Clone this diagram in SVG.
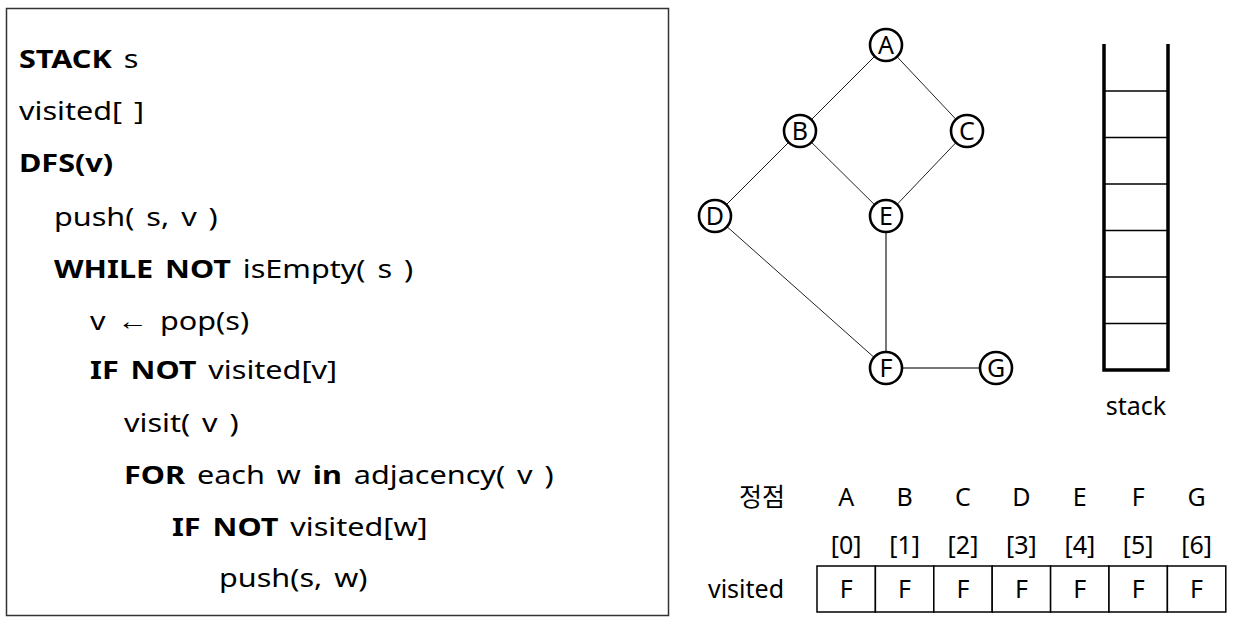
<svg xmlns="http://www.w3.org/2000/svg" width="1237" height="623" viewBox="0 0 1237 623">
<style>
.code{font-family:"Noto Sans","Open Sans",sans-serif;font-size:25.5px;fill:#000;word-spacing:3.3px}
.b{font-weight:bold}
.lbl{font-family:"Noto Sans","Open Sans","Noto Sans CJK KR",sans-serif;font-size:25px;fill:#000}
.mid{text-anchor:middle}
.node circle{fill:#fff;stroke:#000;stroke-width:2.6}
.node text{font-family:"Noto Sans","Open Sans",sans-serif;font-size:25px;text-anchor:middle;fill:#000}
.edge{stroke:#222;stroke-width:1}
.edge2{stroke:#777;stroke-width:2}
.cell{fill:#fff;stroke:#000;stroke-width:1.5}
</style>
<rect width="1237" height="623" fill="#fff"/>
<g id="code">
<rect x="6.5" y="8.5" width="662" height="607" fill="#fff" stroke="#333" stroke-width="1.5"/>
<g transform="scale(1.2,1)" class="code">
<text x="15.8" y="68"><tspan class="b">STACK</tspan> s</text>
<text x="15.8" y="120">visited[ ]</text>
<text x="15.8" y="172" class="b">DFS(v)</text>
<text x="45" y="226">push( s, v )</text>
<text x="45" y="278"><tspan class="b">WHILE NOT</tspan> isEmpty( s )</text>
<text x="75" y="330">v ← pop(s)</text>
<text x="75" y="379"><tspan class="b">IF NOT</tspan> visited[v]</text>
<text x="103.3" y="432">visit( v )</text>
<text x="103.3" y="484"><tspan class="b">FOR</tspan> each w <tspan class="b">in</tspan> adjacency( v )</text>
<text x="143.3" y="536"><tspan class="b">IF NOT</tspan> visited[w]</text>
<text x="182.5" y="587">push(s, w)</text>
</g>
</g>
<g id="edges">
<line class="edge" x1="886" y1="45" x2="800" y2="131"/>
<line class="edge" x1="886" y1="45" x2="967" y2="131"/>
<line class="edge" x1="800" y1="131" x2="715" y2="216"/>
<line class="edge" x1="800" y1="131" x2="886" y2="216"/>
<line class="edge" x1="967" y1="131" x2="886" y2="216"/>
<line class="edge" x1="715" y1="216" x2="886" y2="368"/>
<line class="edge2" x1="886" y1="216" x2="886" y2="368"/>
<line class="edge2" x1="886" y1="368" x2="996" y2="368"/>
</g>
<g id="node-A" class="node"><circle cx="886" cy="45" r="16"/><text x="886" y="54">A</text></g>
<g id="node-B" class="node"><circle cx="800" cy="131" r="16"/><text x="800" y="140">B</text></g>
<g id="node-C" class="node"><circle cx="967" cy="131" r="16"/><text x="967" y="140">C</text></g>
<g id="node-D" class="node"><circle cx="715" cy="216" r="16"/><text x="715" y="225">D</text></g>
<g id="node-E" class="node"><circle cx="886" cy="216" r="16"/><text x="886" y="225">E</text></g>
<g id="node-F" class="node"><circle cx="886" cy="368" r="16"/><text x="886" y="377">F</text></g>
<g id="node-G" class="node"><circle cx="996" cy="368" r="16"/><text x="996" y="377">G</text></g>
<g id="stack">
<g stroke="#000" stroke-width="1.5">
<line x1="1104" y1="91" x2="1168" y2="91"/>
<line x1="1104" y1="137.5" x2="1168" y2="137.5"/>
<line x1="1104" y1="184" x2="1168" y2="184"/>
<line x1="1104" y1="230.5" x2="1168" y2="230.5"/>
<line x1="1104" y1="277" x2="1168" y2="277"/>
<line x1="1104" y1="323.5" x2="1168" y2="323.5"/>
</g>
<polyline points="1104,44 1104,370 1168,370 1168,44" fill="none" stroke="#000" stroke-width="3.5"/>
<text class="lbl mid" x="1136" y="415">stack</text>
</g>
<g id="table">
<text class="lbl mid" x="762" y="506">정점</text>
<g class="lbl mid">
<text x="846.2" y="506">A</text><text x="904.6" y="506">B</text><text x="963" y="506">C</text><text x="1021.4" y="506">D</text><text x="1079.8" y="506">E</text><text x="1138.2" y="506">F</text><text x="1196.6" y="506">G</text>
<text x="846.2" y="554">[0]</text><text x="904.6" y="554">[1]</text><text x="963" y="554">[2]</text><text x="1021.4" y="554">[3]</text><text x="1079.8" y="554">[4]</text><text x="1138.2" y="554">[5]</text><text x="1196.6" y="554">[6]</text>
</g>
<text class="lbl mid" x="746" y="598">visited</text>
<rect class="cell" x="817" y="566" width="58.4" height="46"/>
<rect class="cell" x="875.4" y="566" width="58.4" height="46"/>
<rect class="cell" x="933.8" y="566" width="58.4" height="46"/>
<rect class="cell" x="992.2" y="566" width="58.4" height="46"/>
<rect class="cell" x="1050.6" y="566" width="58.4" height="46"/>
<rect class="cell" x="1109" y="566" width="58.4" height="46"/>
<rect class="cell" x="1167.4" y="566" width="58.4" height="46"/>
<g class="lbl mid">
<text x="846.2" y="598">F</text><text x="904.6" y="598">F</text><text x="963" y="598">F</text><text x="1021.4" y="598">F</text><text x="1079.8" y="598">F</text><text x="1138.2" y="598">F</text><text x="1196.6" y="598">F</text>
</g>
</g>
</svg>
